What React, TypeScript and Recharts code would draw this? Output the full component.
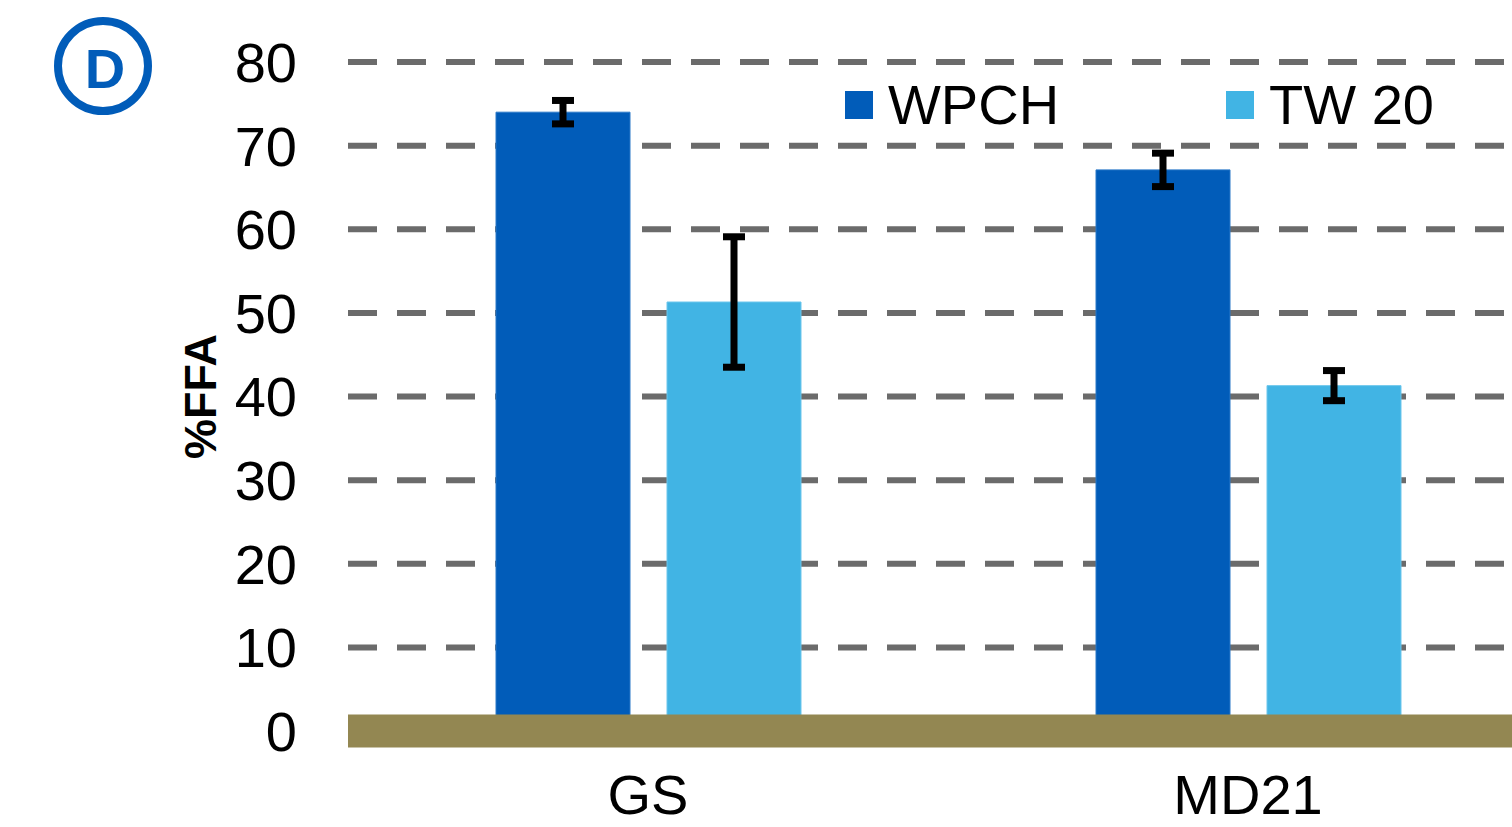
import React from "react";
import {
  BarChart,
  Bar,
  XAxis,
  YAxis,
  CartesianGrid,
  ErrorBar,
  ReferenceLine,
  Legend,
} from "recharts";

const categories = ["GS", "MD21"];
const wpch = [74.0, 67.1];
const wpchErr = [1.4, 2.0];
const tw20 = [51.3, 41.3];
const tw20Err = [7.8, 1.8];
const yTicks = [0, 10, 20, 30, 40, 50, 60, 70, 80];

const series = [
  { key: "wpch", name: "WPCH", color: "#015cb9", edge: "#2a78c8" },
  { key: "tw20", name: "TW 20", color: "#41b4e4", edge: "#6cc6ec" },
];

const data = categories.map((c, i) => ({
  name: c,
  wpch: wpch[i],
  wpchErr: wpchErr[i],
  tw20: tw20[i],
  tw20Err: tw20Err[i],
}));

const FONT = "'Liberation Sans', Arial, sans-serif";

function LegendBox() {
  return (
    <div style={{ display: "flex", alignItems: "center", fontFamily: FONT, fontSize: 56, lineHeight: "56px", color: "#000" }}>
      {series.map((s, i) => (
        <div key={s.key} style={{ display: "flex", alignItems: "center", marginRight: i === 0 ? 167 : 0 }}>
          <span style={{ display: "inline-block", width: 28, height: 28, background: s.color, marginRight: 15 }} />
          <span style={{ whiteSpace: "nowrap" }}>{s.name}</span>
        </div>
      ))}
    </div>
  );
}

// rotated y-axis title, placed inside the axis box
function AxisTitle(props: any) {
  const vb = props.viewBox || { x: 0, y: 0, height: 0 };
  const cx = vb.x + 200;
  const cy = vb.y + vb.height / 2;
  return (
    <text
      x={cx}
      y={cy}
      transform={`rotate(-90 ${cx} ${cy})`}
      textAnchor="middle"
      dominantBaseline="central"
      fontFamily={FONT}
      fontWeight="bold"
      fontSize={45}
      fill="#000"
    >
      %FFA
    </text>
  );
}

export default function App() {
  return (
    <div style={{ position: "absolute", left: 0, top: 0, width: 1512, height: 827, overflow: "hidden", background: "#fff" }}>
      <svg width={160} height={130} style={{ position: "absolute", left: 0, top: 0 }}>
        <circle cx={103} cy={66} r={45} fill="none" stroke="#015cb9" strokeWidth={8} />
        <text x={105} y={68} textAnchor="middle" dominantBaseline="central" fontFamily={FONT} fontWeight="bold" fontSize={56} fill="#015cb9">
          D
        </text>
      </svg>
      <BarChart
        width={1560}
        height={827}
        data={data}
        margin={{ top: 62, right: 12, bottom: 0, left: 0 }}
        barCategoryGap={147}
        barGap={37}
      >
        <CartesianGrid
          vertical={false}
          horizontalValues={yTicks.slice(1)}
          stroke="#6b6b6b"
          strokeWidth={6}
          strokeDasharray="29 20"
        />
        <XAxis
          dataKey="name"
          axisLine={false}
          tickLine={false}
          tickSize={0}
          tickMargin={43}
          height={96}
          tick={{ fontSize: 56, fill: "#000", fontFamily: FONT }}
        />
        <YAxis
          domain={[0, 80]}
          ticks={yTicks}
          width={348}
          axisLine={false}
          tickLine={false}
          tickSize={0}
          tickMargin={51}
          tick={{ fontSize: 56, fill: "#000", fontFamily: FONT }}
          label={<AxisTitle />}
        />
        <Legend
          layout="vertical"
          align="center"
          verticalAlign="middle"
          content={() => <LegendBox />}
          wrapperStyle={{ position: "absolute", left: 845, top: 77, width: "auto", height: "auto" }}
        />
        {series.map((s) => (
          <Bar
            key={s.key}
            dataKey={s.key}
            name={s.name}
            fill={s.color}
            stroke={s.edge}
            strokeWidth={1}
            barSize={134}
            isAnimationActive={false}
          >
            <ErrorBar dataKey={`${s.key}Err`} width={11} strokeWidth={7} stroke="#000" isAnimationActive={false} />
          </Bar>
        ))}
        {/* floor band drawn over the bar bases */}
        <ReferenceLine y={0} stroke="#938752" strokeWidth={33} />
      </BarChart>
    </div>
  );
}
